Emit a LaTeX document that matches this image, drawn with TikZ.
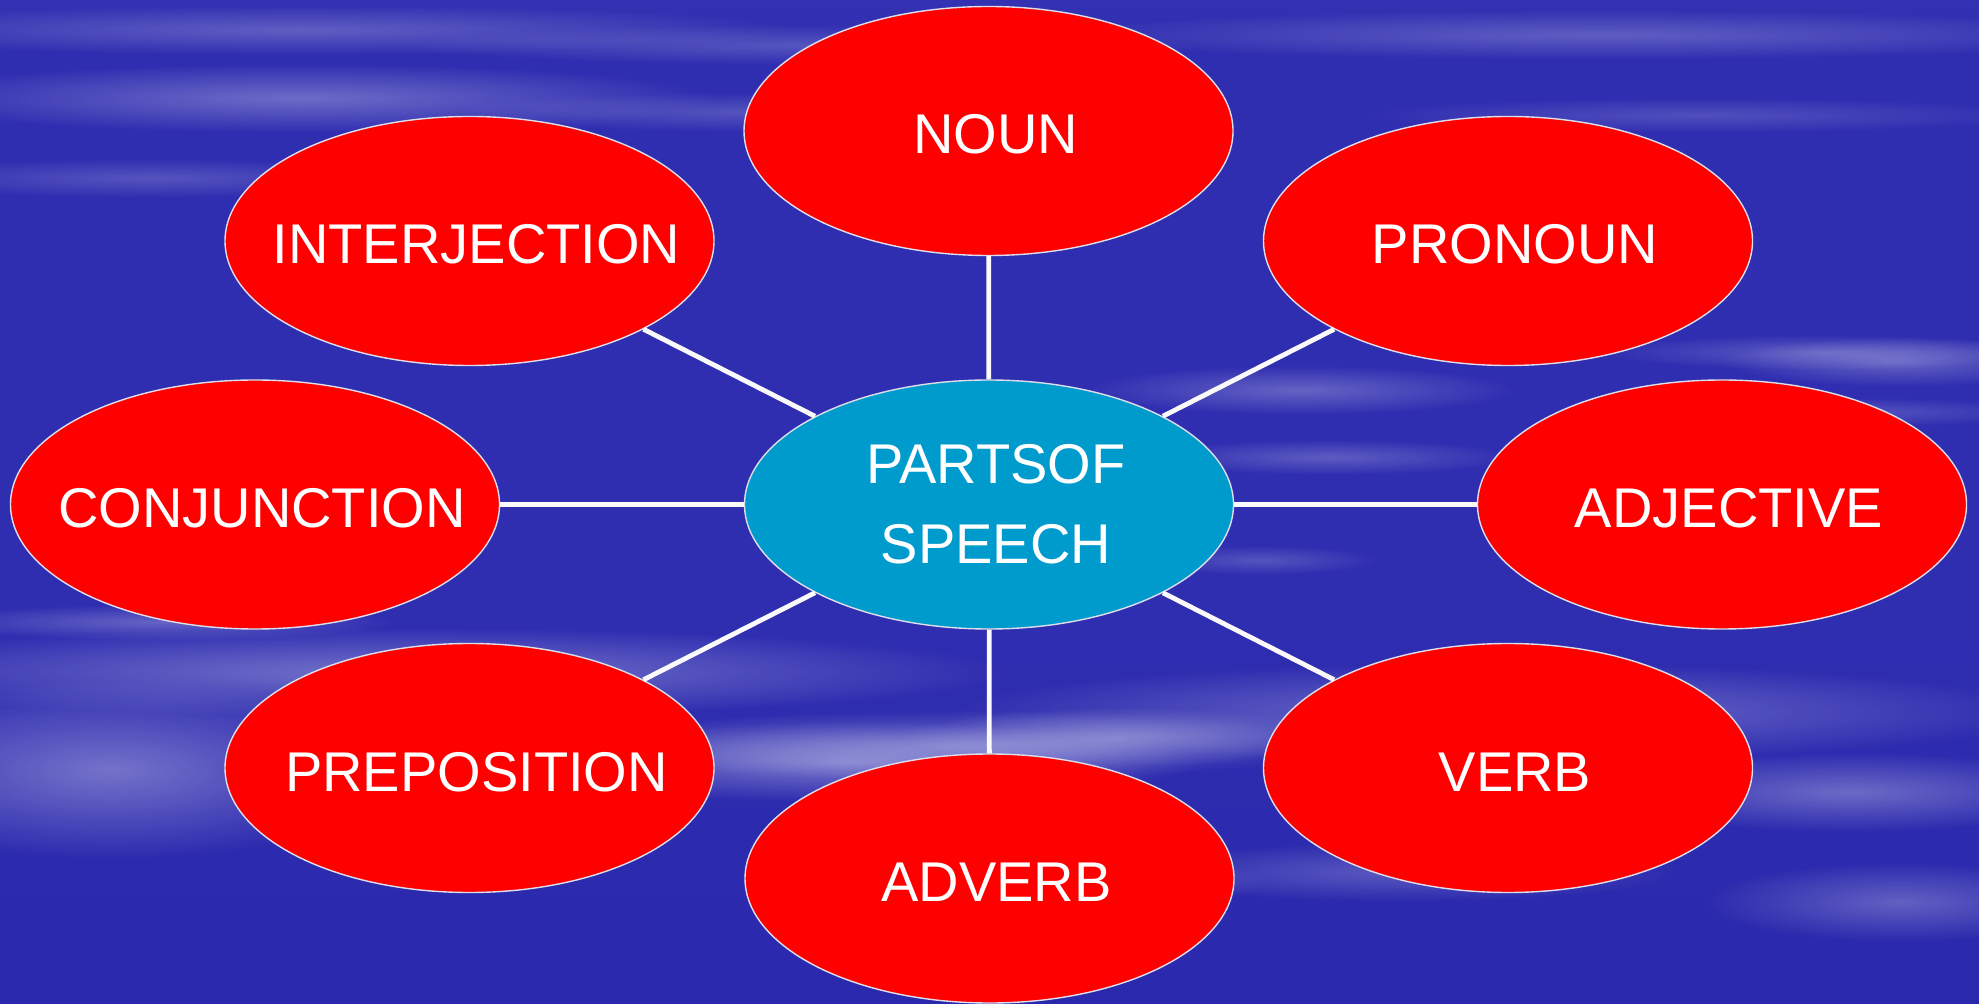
\documentclass[tikz,border=0pt]{standalone}
\usepackage{fontspec}
\setmainfont{Liberation Sans}
\usetikzlibrary{shapes.geometric,fadings}
\definecolor{bgtop}{RGB}{96,100,204}
\definecolor{bgup}{RGB}{66,66,186}
\definecolor{bgmid}{RGB}{47,45,176}
\definecolor{bgbot}{RGB}{36,34,168}
\definecolor{redfill}{RGB}{255,0,0}
\definecolor{cyanfill}{RGB}{0,155,205}
\definecolor{rim}{RGB}{222,222,235}
\pgfdeclareverticalshading{bgshade}{100bp}{color(0bp)=(bgbot); color(45bp)=(bgmid); color(72bp)=(bgmid); color(85bp)=(bgup); color(100bp)=(bgtop)}
\tikzfading[name=softfade, inner color=transparent!25, outer color=transparent!100]
\newcommand{\shifted}[1]{\makebox[0pt]{\hspace*{7pt}#1}}
\begin{document}
\begin{tikzpicture}[x=0.5pt,y=-0.5pt,
  bubble/.style={ellipse, draw=rim, line width=0.7pt, minimum width=244.5pt, minimum height=124.5pt,
    inner sep=0pt, text=white, font=\fontsize{28}{40}\selectfont, text height=23pt, text depth=0pt},
  part/.style={bubble, fill=redfill},
  hub/.style={bubble, fill=cyanfill, align=center, text height=, text depth=},
  link/.style={draw=white!96!gray, line width=2.4pt},
  streak/.style={fill=white, path fading=softfade, fill opacity=#1}]
  % background
  \fill[shading=bgshade] (0,0) rectangle (1979,1004);
  \useasboundingbox (0,0) rectangle (1979,1004);
  \foreach \cx/\cy/\rx/\ry/\op in {
    300/30/500/25/0.3, 800/45/400/20/0.25, 300/98/420/35/0.4, 750/112/300/20/0.25,
    150/178/280/20/0.25, 1600/35/550/25/0.3, 1700/115/350/18/0.22, 1900/362/180/25/0.35,
    1300/390/220/25/0.35, 1330/457/190/18/0.3, 1820/352/220/18/0.3, 1850/412/200/15/0.25,
    1260/560/120/15/0.25, 400/672/620/45/0.45, 110/770/300/90/0.45, 850/762/350/40/0.5,
    950/745/400/35/0.4, 1500/712/560/50/0.4, 1120/737/220/30/0.4, 1850/792/260/40/0.4,
    1400/872/280/30/0.3, 1900/902/200/40/0.35, 1100/882/170/25/0.22, 160/622/240/18/0.35}
    \fill[streak=\op] (\cx,\cy) ellipse [x radius=\rx, y radius=\ry];
  % nodes
  \node[hub]  (hub)  at (989,504.5) {\shifted{PARTSOF}\\\shifted{SPEECH}};
  \node[part] (noun) at (988.5,131) {\shifted{NOUN}};
  \node[part] (pron) at (1508,241) {\shifted{PRONOUN}};
  \node[part] (adj)  at (1722,504.5) {\shifted{ADJECTIVE}};
  \node[part] (verb) at (1508,768) {\shifted{VERB}};
  \node[part] (adv)  at (989.5,878.5) {\shifted{ADVERB}};
  \node[part] (prep) at (469.5,768) {\shifted{PREPOSITION}};
  \node[part] (conj) at (255,504.5) {\shifted{CONJUNCTION}};
  \node[part] (intj) at (469.5,241) {\shifted{INTERJECTION}};
  % connectors
  \foreach \t in {noun,pron,adj,verb,adv,prep,conj,intj}
    \draw[link] (hub) -- (\t);
\end{tikzpicture}
\end{document}
